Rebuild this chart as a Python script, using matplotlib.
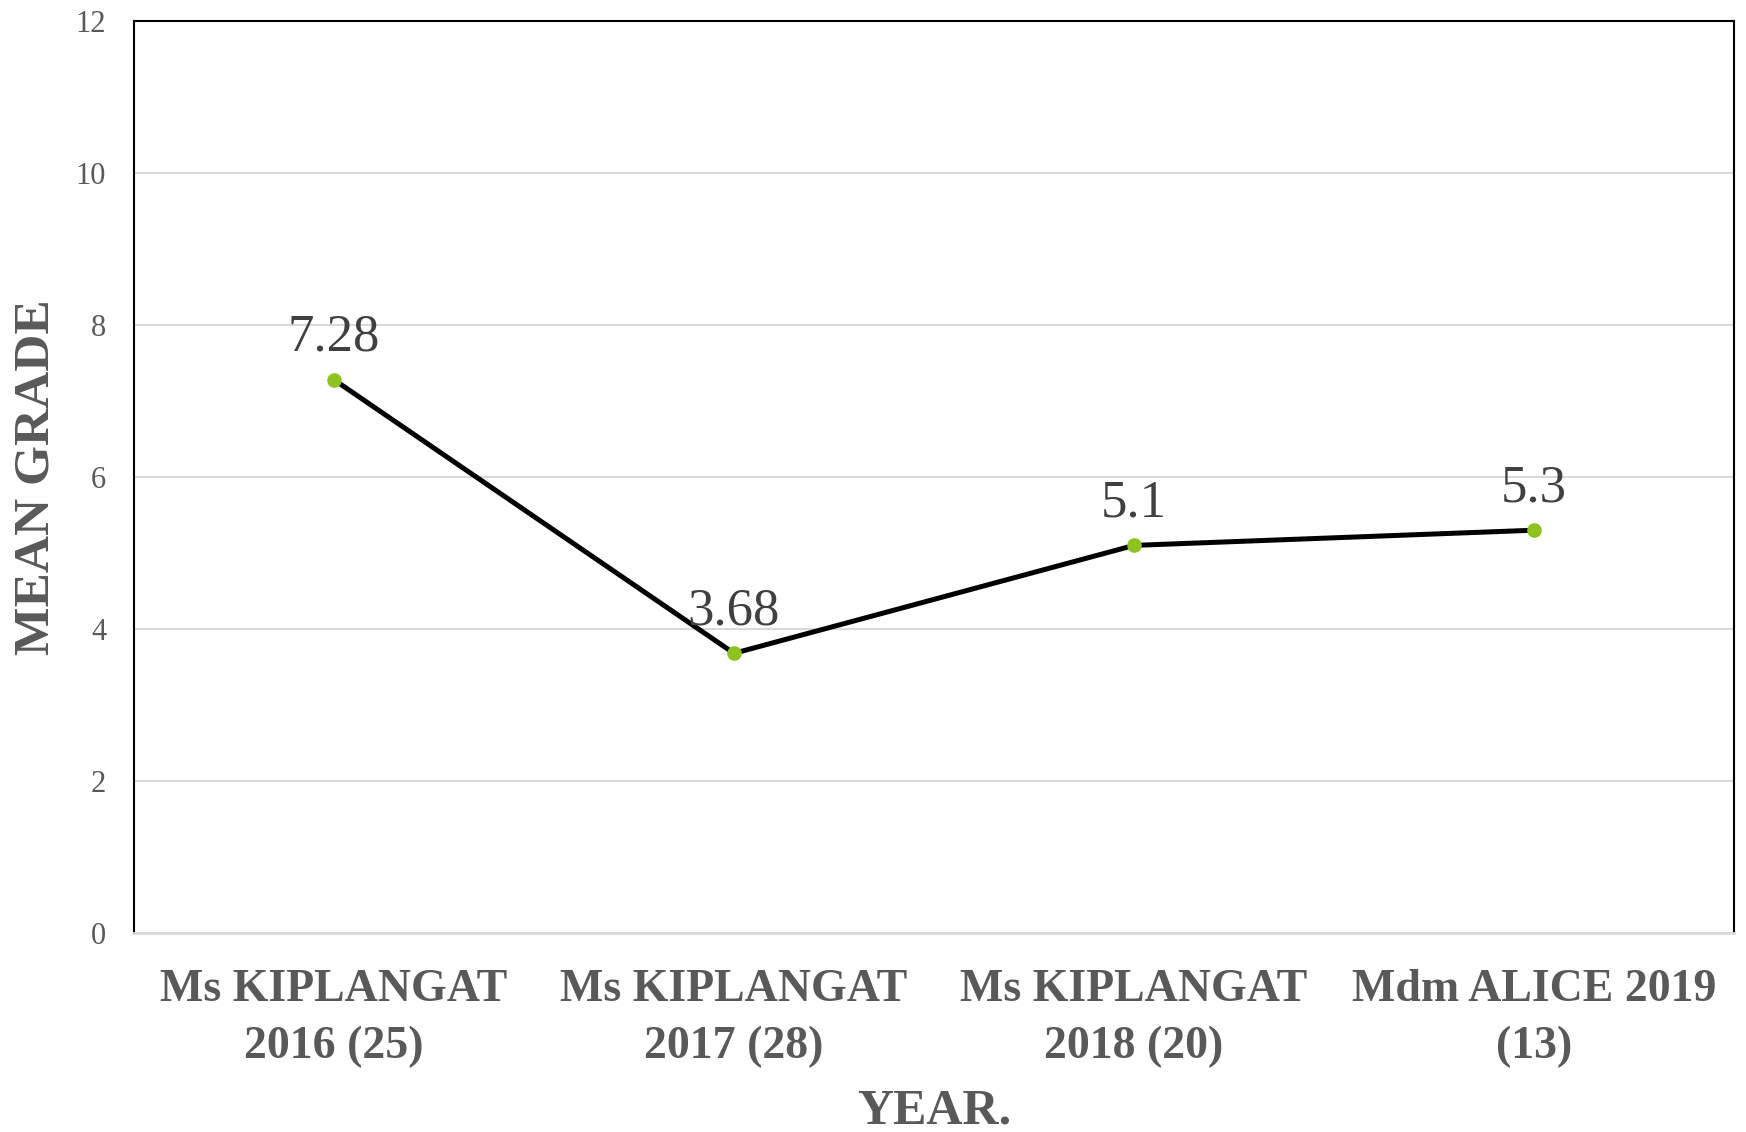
import matplotlib
matplotlib.use("Agg")
import matplotlib.pyplot as plt

categories = ["Ms KIPLANGAT\n2016 (25)", "Ms KIPLANGAT\n2017 (28)",
              "Ms KIPLANGAT\n2018 (20)", "Mdm ALICE 2019\n(13)"]
mean_grade = [7.28, 3.68, 5.1, 5.3]
value_labels = ["7.28", "3.68", "5.1", "5.3"]
y_ticks = [0, 2, 4, 6, 8, 10, 12]

plt.rcParams['font.family'] = ['Liberation Serif', 'DejaVu Serif']

fig = plt.figure(figsize=(17.46, 11.32), dpi=100)
ax = fig.add_axes([134/1746, (1132-933)/1132, 1600/1746, 912/1132])

x = list(range(len(categories)))
ax.plot(x, mean_grade, color='black', linewidth=3.6, zorder=3,
        marker='o', markersize=9.5, markerfacecolor='#8DC21F',
        markeredgecolor='#8DC21F', solid_capstyle='round')

for xi, yi, lab in zip(x, mean_grade, value_labels):
    ax.annotate(lab, (xi, yi), xytext=(0, 13), textcoords='offset points',
                ha='center', va='bottom', fontsize=38, color='#404040')

ax.set_xlim(-0.5, len(categories) - 0.5)
ax.set_ylim(0, 12)
ax.set_yticks(y_ticks)
ax.set_yticklabels([str(t) for t in y_ticks])
ax.set_xticks(x)
ax.set_xticklabels(categories, fontsize=33, fontweight='bold', color='#595959',
                   linespacing=1.45)
ax.tick_params(axis='y', length=0, pad=20, labelsize=22, labelcolor='#595959')
ax.tick_params(axis='x', length=0, pad=26)

ax.yaxis.grid(True, color='#D9D9D9', linewidth=1.5)
ax.set_axisbelow(True)

for s in ['left', 'top', 'right']:
    ax.spines[s].set_color('black')
    ax.spines[s].set_linewidth(1.5)
ax.spines['bottom'].set_color('#D9D9D9')
ax.spines['bottom'].set_linewidth(2)

ax.set_ylabel("MEAN GRADE", fontsize=37, fontweight='bold', color='#595959',
              va='center')
ax.yaxis.set_label_coords((37 - 134) / 1600, 0.5)
ax.set_xlabel("YEAR.", fontsize=36, fontweight='bold', color='#595959',
              va='center')
ax.xaxis.set_label_coords(0.5, (933 - 1111) / 912)

fig.savefig("out.png", dpi=100, facecolor='white')
